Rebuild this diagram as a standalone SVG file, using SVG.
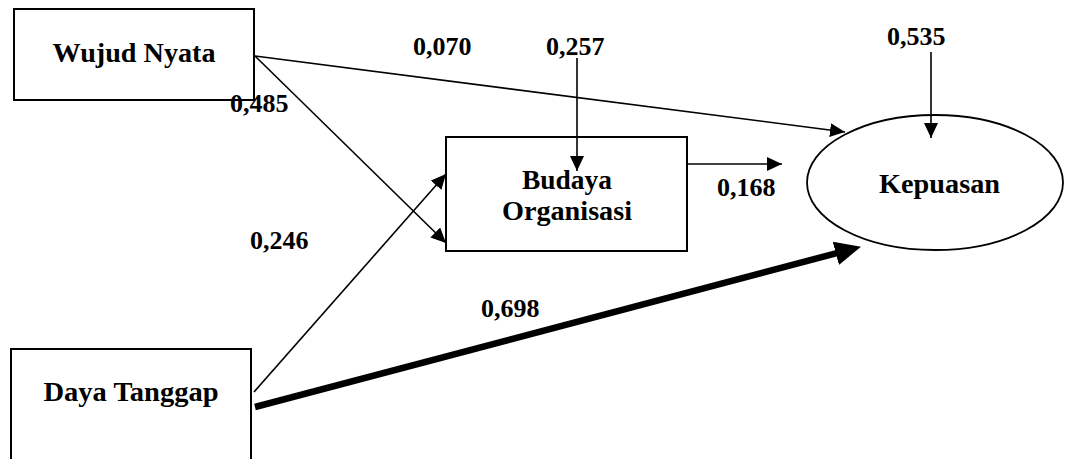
<svg xmlns="http://www.w3.org/2000/svg" width="1065" height="459" viewBox="0 0 1065 459">
<style>
.box{fill:#fff;stroke:#000;stroke-width:2}
.lbl{font-family:"Liberation Serif","Times New Roman",serif;font-weight:bold;font-size:26px;fill:#000}
.node{text-anchor:middle;font-size:27px}
.ln{stroke:#000;stroke-width:1.6;fill:none}
.thick{stroke:#000;stroke-width:6.5;fill:none}
</style>
<defs>
<marker id="ah" markerUnits="userSpaceOnUse" markerWidth="15" markerHeight="14" viewBox="0 0 15 14" refX="15" refY="7" orient="auto">
<path d="M0,0 L15,7 L0,14 z" fill="#000"/>
</marker>
<marker id="ahT" markerUnits="userSpaceOnUse" markerWidth="26" markerHeight="24" viewBox="0 0 26 24" refX="1" refY="12" orient="auto">
<path d="M0,0 L26,12 L0,24 z" fill="#000"/>
</marker>
</defs>
<rect width="1065" height="459" fill="#fff"/>
<g id="wujud-nyata">
<rect class="box" x="14" y="9" width="240" height="91"/>
<text class="lbl node" x="134" y="62" textLength="163" lengthAdjust="spacingAndGlyphs">Wujud Nyata</text>
</g>
<g id="budaya-organisasi">
<rect class="box" x="446" y="137" width="241" height="114"/>
<text class="lbl node" x="567" y="189" textLength="90" lengthAdjust="spacingAndGlyphs">Budaya</text>
<text class="lbl node" x="567" y="220" textLength="130" lengthAdjust="spacingAndGlyphs">Organisasi</text>
</g>
<g id="daya-tanggap">
<rect class="box" x="11" y="349" width="240" height="130"/>
<text class="lbl node" x="131" y="401" textLength="175" lengthAdjust="spacingAndGlyphs">Daya Tanggap</text>
</g>
<g id="kepuasan">
<ellipse cx="935" cy="182.5" rx="128" ry="67.5" fill="#fff" stroke="#000" stroke-width="1.8"/>
<text class="lbl node" x="939.5" y="193" textLength="121" lengthAdjust="spacingAndGlyphs">Kepuasan</text>
</g>
<g id="connectors">
<line class="ln" x1="255" y1="56" x2="845" y2="132" marker-end="url(#ah)"/>
<line class="ln" x1="255" y1="56" x2="446" y2="243" marker-end="url(#ah)"/>
<line class="ln" x1="254" y1="392" x2="446" y2="174" marker-end="url(#ah)"/>
<line class="thick" x1="255" y1="407" x2="836.8" y2="253.1" marker-end="url(#ahT)"/>
<line class="ln" x1="687" y1="164" x2="782" y2="164" marker-end="url(#ah)"/>
<line class="ln" x1="577" y1="58" x2="577" y2="171" marker-end="url(#ah)"/>
<line class="ln" x1="931" y1="52" x2="931" y2="138" marker-end="url(#ah)"/>
</g>
<g id="labels">
<text class="lbl" x="413" y="55">0,070</text>
<text class="lbl" x="546" y="55">0,257</text>
<text class="lbl" x="887" y="45">0,535</text>
<text class="lbl" x="230" y="112">0,485</text>
<text class="lbl" x="717" y="196">0,168</text>
<text class="lbl" x="250" y="249">0,246</text>
<text class="lbl" x="481" y="317">0,698</text>
</g>
</svg>
